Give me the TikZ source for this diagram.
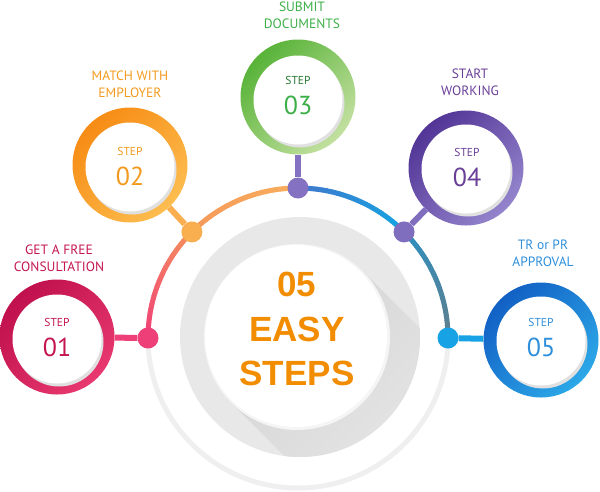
\documentclass[tikz,border=0pt]{standalone}
\usepackage{fontspec}
\setmainfont{PT Sans}
\newfontfamily\headfont{Liberation Sans}
\usetikzlibrary{calc}
\definecolor{ringA}{HTML}{C0104D}\definecolor{ringAl}{HTML}{E8386F}
\definecolor{ringB}{HTML}{F68C14}\definecolor{ringBl}{HTML}{FDBD50}
\definecolor{ringC}{HTML}{58B338}\definecolor{ringCl}{HTML}{C3E0A0}
\definecolor{ringD}{HTML}{523596}\definecolor{ringDl}{HTML}{9484CC}
\definecolor{ringE}{HTML}{1260C4}\definecolor{ringEl}{HTML}{2CA8E8}
\definecolor{txtA}{HTML}{C41550}\definecolor{txtB}{HTML}{F39A1E}
\definecolor{txtC}{HTML}{3DAF48}\definecolor{txtD}{HTML}{6A3F98}
\definecolor{txtE}{HTML}{2E8FDB}
\definecolor{dotA}{HTML}{EF3F78}\definecolor{dotB}{HTML}{F9AE4F}
\definecolor{dotC}{HTML}{8571C1}\definecolor{dotD}{HTML}{7F6DBE}
\definecolor{dotE}{HTML}{17A2E6}
\definecolor{arcA}{HTML}{EF3F78}\definecolor{arcB}{HTML}{F5905E}
\definecolor{arcC}{HTML}{F5985A}\definecolor{arcD}{HTML}{F9AE5C}
\definecolor{arcE}{HTML}{4077CC}\definecolor{arcF}{HTML}{14A5E2}
\definecolor{arcG}{HTML}{2E8FC0}\definecolor{arcH}{HTML}{5F7F8E}
\definecolor{ringgray}{HTML}{EFEFEF}
\definecolor{centergray}{HTML}{E8E8E8}
\definecolor{shadowgray}{HTML}{D4D4D4}
\definecolor{titleorange}{HTML}{F28C00}
\begin{document}
\begin{tikzpicture}[x=1pt,y=1pt,
  ringnode/.style={circle, inner sep=0pt, minimum size=115pt},
  innerdisc/.style={circle, inner sep=0pt, minimum size=89pt, fill=white},
  discshadow/.style={circle, inner sep=0pt, minimum size=89pt, fill=black!12},
  dotnode/.style={circle, inner sep=0pt, minimum size=21pt},
  link/.style={line width=6pt},
  labeltext/.style={align=center, font=\fontsize{13.5}{17}\selectfont},
  steptext/.style={font=\fontsize{11.5}{12}\selectfont},
  numtext/.style={font=\fontsize{26}{28}\selectfont},
]
\useasboundingbox (0,0) rectangle (600,-491);
\coordinate (c) at (298,-338);
% lower light ring
\draw[line width=5pt, ringgray] ($(c)+(0:150)$) arc[start angle=0, end angle=-180, radius=150];
% coloured arc
\foreach \s/\ca/\cb in {180/arcA/arcB, 135/arcC/arcD, 90/arcE/arcF, 45/arcG/arcH} {
  \foreach \k in {0,...,44} {
    \pgfmathtruncatemacro\q{100-100*\k/44}
    \pgfmathsetmacro\aa{\s-\k}
    \pgfmathsetmacro\bb{\s-\k-1.3}
    \draw[line width=5pt, color=\ca!\q!\cb] ($(c)+(\aa:150)$) arc[start angle=\aa, end angle=\bb, radius=150];
  }
}
% central disc with long shadow
\node[circle, inner sep=0pt, minimum size=240pt, fill=centergray] (cg) at (300,-337) {};
\coordinate (cwc) at (297,-337);
\begin{scope}
  \clip (cg.center) circle (120);
  \shade[top color=shadowgray, bottom color=centergray, shading angle=45]
    ($(cwc)+(45:93)$) -- ($(cwc)+(225:93)$) -- ($(cwc)+(225:93)+(-45:150)$) -- ($(cwc)+(45:93)+(-45:150)$) -- cycle;
\end{scope}
\node[circle, inner sep=0pt, minimum size=186pt, fill=white!96!black] (cw) at (cwc) {};
\node[circle, inner sep=0pt, minimum size=182pt, fill=white] (cw2) at ($(cwc)+(-1,1)$) {};
\node[font=\headfont\bfseries\fontsize{35}{44.5}\selectfont, color=titleorange, align=center] (title) at (297,-329) {05\\EASY\\STEPS};
% dots on the arc
\node[dotnode, fill=dotA] (d1) at ($(c)+(180:150)$) {};
\node[dotnode, fill=dotB] (d2) at ($(c)+(135:150)$) {};
\node[dotnode, fill=dotC] (d3) at ($(c)+(90:150)$) {};
\node[dotnode, fill=dotD] (d4) at ($(c)+(45:150)$) {};
\node[dotnode, fill=dotE] (d5) at ($(c)+(0:150)$) {};
% step rings
\node[ringnode, top color=ringA, bottom color=ringAl, shading angle=45] (s1) at (57,-337) {};
\node[ringnode, top color=ringB, bottom color=ringBl, shading angle=45] (s2) at (130,-165) {};
\node[ringnode, top color=ringC, bottom color=ringCl, shading angle=45] (s3) at (298,-97) {};
\node[ringnode, top color=ringD, bottom color=ringDl, shading angle=45] (s4) at (466,-168) {};
\node[ringnode, top color=ringE, bottom color=ringEl, shading angle=45] (s5) at (541,-340) {};
% connectors
\draw[link, dotA] (s1) -- (d1);
\draw[link, dotB] (s2) -- (d2);
\draw[link, dotC] (s3) -- (d3);
\draw[link, dotD] (s4) -- (d4);
\draw[link, dotE] (s5) -- (d5);
% inner discs
\foreach \n/\x/\y in {1/57/-339, 2/130/-167, 3/298/-100, 4/466/-169, 5/541/-341} {
  \node[discshadow] (h\n) at (\x+2,\y-3) {};
  \node[innerdisc] (w\n) at (\x,\y) {};
}
% texts
\node[steptext, txtA] (st1) at (57,-322) {STEP};
\node[numtext, txtA] (n1) at (57,-347) {01};
\node[steptext, txtB] (st2) at (130,-151) {STEP};
\node[numtext, txtB] (n2) at (130,-176) {02};
\node[steptext, txtC!70!black] (st3) at (298,-80) {STEP};
\node[numtext, txtC] (n3) at (298,-105) {03};
\node[steptext, txtD] (st4) at (467,-152) {STEP};
\node[numtext, txtD] (n4) at (467,-177) {04};
\node[steptext, txtE] (st5) at (541,-322) {STEP};
\node[numtext, txtE] (n5) at (541,-347) {05};
\node[labeltext, txtA] (t1) at (59,-258.5) {GET A FREE\\CONSULTATION};
\node[labeltext, txtB] (t2) at (130,-84.5) {MATCH WITH\\EMPLOYER};
\node[labeltext, txtC] (t3) at (302,-15.5) {SUBMIT\\DOCUMENTS};
\node[labeltext, txtD] (t4) at (470,-82) {START\\WORKING};
\node[labeltext, txtE] (t5) at (543,-253.5) {TR or PR\\APPROVAL};
\end{tikzpicture}
\end{document}
